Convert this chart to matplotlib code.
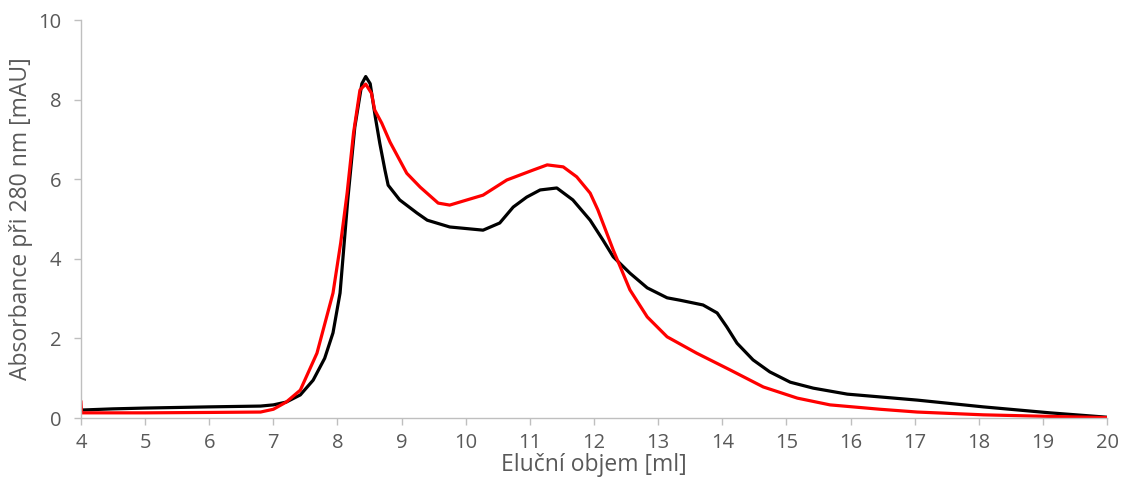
import matplotlib.pyplot as plt

# elution volume [ml] and absorbance [mAU] for the two runs
black_ml = [4.0, 4.5, 5.0, 6.0, 6.8, 7.0, 7.2, 7.42, 7.62, 7.8, 7.93, 8.04, 8.16,
            8.27, 8.38, 8.44, 8.51, 8.59, 8.66, 8.74, 8.79, 8.97, 9.24, 9.4, 9.75,
            10.27, 10.53, 10.74, 10.95, 11.16, 11.42, 11.67, 11.94, 12.14, 12.3,
            12.56, 12.83, 13.14, 13.34, 13.7, 13.92, 14.07, 14.23, 14.48, 14.74,
            15.06, 15.42, 15.95, 16.46, 17.04, 18.07, 19.11, 20.0]
black_mau = [0.2, 0.23, 0.25, 0.28, 0.3, 0.33, 0.4, 0.58, 0.95, 1.5, 2.14, 3.14, 5.48,
             7.31, 8.4, 8.58, 8.4, 7.56, 6.9, 6.23, 5.85, 5.48, 5.15, 4.97, 4.8,
             4.72, 4.9, 5.3, 5.55, 5.73, 5.78, 5.48, 4.97, 4.47, 4.05,
             3.64, 3.27, 3.02, 2.96, 2.84, 2.64, 2.29, 1.88, 1.46, 1.16,
             0.9, 0.75, 0.6, 0.53, 0.45, 0.28, 0.13, 0.02]

red_ml = [4.0, 4.01, 4.5, 5.0, 6.0, 6.8, 7.0, 7.2, 7.42, 7.68, 7.93, 8.05, 8.15,
          8.25, 8.35, 8.44, 8.53, 8.58, 8.69, 8.82, 9.08, 9.29, 9.57, 9.75,
          10.02, 10.27, 10.64, 11.05, 11.27, 11.52, 11.73, 11.94, 12.06, 12.3,
          12.56, 12.83, 13.14, 13.6, 14.12, 14.64, 15.17, 15.68, 16.46, 17.04,
          18.07, 19.11, 20.0]
red_mau = [0.4, 0.13, 0.13, 0.13, 0.14, 0.15, 0.22, 0.4, 0.7, 1.63, 3.14, 4.4, 5.65,
           7.16, 8.24, 8.39, 8.16, 7.74, 7.41, 6.93, 6.15, 5.8, 5.4, 5.35,
           5.48, 5.6, 5.98, 6.23, 6.36, 6.31, 6.06, 5.65, 5.23, 4.22,
           3.22, 2.54, 2.04, 1.63, 1.21, 0.78, 0.5, 0.33, 0.22, 0.15,
           0.08, 0.04, 0.01]

plt.rcParams['font.family'] = ['Open Sans', 'DejaVu Sans']
grey = '#595959'

fig = plt.figure(figsize=(11.23, 4.93), dpi=100)
ax = fig.add_axes([0.0721, 0.1521, 0.9137, 0.8073])

ax.plot(black_ml, black_mau, color='black', lw=2.3, solid_joinstyle='round')
ax.plot(red_ml, red_mau, color='#FF0000', lw=2.3, solid_joinstyle='round')

ax.set_xlim(4, 20)
ax.set_ylim(0, 10)
ax.set_xticks(range(4, 21))
ax.set_yticks(range(0, 11, 2))

for side in ('top', 'right'):
    ax.spines[side].set_visible(False)
for side in ('left', 'bottom'):
    ax.spines[side].set_color('#BFBFBF')
    ax.spines[side].set_linewidth(1.0)

ax.tick_params(axis='both', colors='#BFBFBF', labelcolor=grey, labelsize=14.5,
               length=5, width=1, direction='out')
ax.tick_params(axis='x', pad=6)
ax.tick_params(axis='y', pad=9)

ax.set_xlabel('Eluční objem [ml]', fontsize=16.5, color=grey, labelpad=0)
ax.set_ylabel('Absorbance při 280 nm [mAU]', fontsize=16.5, color=grey, labelpad=4)

fig.savefig('out.png', dpi=100)
